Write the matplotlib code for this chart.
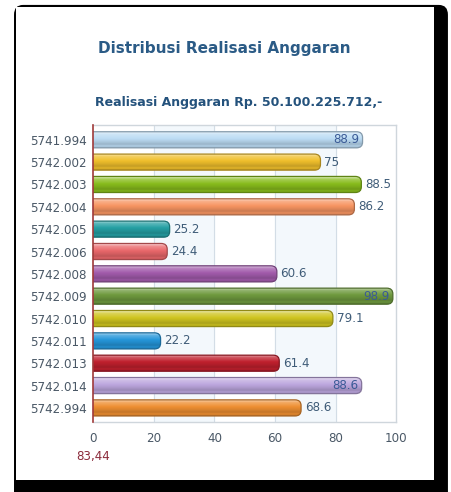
import matplotlib
matplotlib.use("Agg")
import matplotlib.pyplot as plt
from matplotlib.patches import FancyBboxPatch
import matplotlib.colors as mcolors
import numpy as np

categories = ["5741.994", "5742.002", "5742.003", "5742.004", "5742.005", "5742.006",
              "5742.008", "5742.009", "5742.010", "5742.011", "5742.013", "5742.014", "5742.994"]
values = [88.9, 75, 88.5, 86.2, 25.2, 24.4, 60.6, 98.9, 79.1, 22.2, 61.4, 88.6, 68.6]
label_inside = [True, False, False, False, False, False, False, True, False, False, False, True, False]
bar_colors = ["#bcdcf4", "#f0bf2c", "#88bc1c", "#f79562", "#25a0a4", "#e9676a",
              "#a25bac", "#6f9a3f", "#cfc520", "#2596da", "#c0202e", "#bca6de", "#ee8f32"]
xticks = [0, 20, 40, 60, 80, 100]
title = "Distribusi Realisasi Anggaran"
subtitle = "Realisasi Anggaran Rp. 50.100.225.712,-"
footer = "83,44"

fig = plt.figure(figsize=(4.52, 4.92), dpi=100)
fig.patch.set_facecolor("white")

# card frame with shadow
fig.patches.append(FancyBboxPatch((0.031, -0.02), 0.96, 1.01, boxstyle="round,pad=0,rounding_size=0.02",
                                  transform=fig.transFigure, facecolor="black", edgecolor="none", zorder=-3))
fig.patches.append(FancyBboxPatch((0.0354, 0.0244), 0.9246, 0.9614, boxstyle="square,pad=0",
                                  transform=fig.transFigure, facecolor="white", edgecolor="none", zorder=-2))

title_color = "#2b5b86"
fig.text(0.497, 0.902, title, ha="center", va="center", fontsize=11.0, fontweight="bold", color=title_color)
fig.text(0.527, 0.791, subtitle, ha="center", va="center", fontsize=9.0, fontweight="bold", color="#24527c")

ax = fig.add_axes([0.2065, 0.1423, 0.670, 0.604])
ax.set_facecolor("none")
ypos = np.arange(len(categories))

# alternating bands
for i in range(len(xticks) - 1):
    if i % 2 == 1:
        ax.axvspan(xticks[i], xticks[i + 1], color="#f3f8fc", zorder=0)
for t in xticks[1:-1]:
    ax.axvline(t, color="#d3dde6", lw=0.8, zorder=0.5)

h = 0.72
bars = ax.barh(ypos, values, height=h, color=bar_colors, zorder=2)

# glossy rounded bars built from the bar geometry
profile_t = np.array([0.0, 0.08, 0.18, 0.35, 0.45, 0.62, 0.78, 0.9, 1.0])
profile_m = np.array([0.65, 0.55, 0.25, 0.1, 0.0, -0.08, -0.18, -0.05, -0.25])
tt = np.linspace(0, 1, 40)
mix = np.interp(tt, profile_t, profile_m)
for b, c in zip(bars, bar_colors):
    b.set_visible(False)
    x0, y0 = b.get_x(), b.get_y()
    w, hh = b.get_width(), b.get_height()
    rgb = np.array(mcolors.to_rgb(c))
    ext = 3.0
    patch = FancyBboxPatch((x0 - ext, y0), w + ext, hh,
                           boxstyle="round,pad=0,rounding_size=2.0", mutation_aspect=0.13,
                           facecolor="none", edgecolor=rgb * 0.7, linewidth=0.9, zorder=3)
    ax.add_patch(patch)
    grad = np.zeros((len(tt), 1, 3))
    for k, m in enumerate(mix):
        if m >= 0:
            grad[k, 0] = rgb + (1 - rgb) * m
        else:
            grad[k, 0] = rgb * (1 + m)
    im = ax.imshow(grad, extent=(x0 - ext, x0 + w, y0 + hh, y0), aspect="auto",
                   interpolation="bilinear", zorder=2.5)
    im.set_clip_path(patch)

ax.set_ylim(12.63, -0.67)
ax.set_xlim(0, 100)

label_color = "#3f5c78"
for y, v, inside in zip(ypos, values, label_inside):
    txt = f"{v:g}"
    if inside:
        ax.text(v - 1.0, y, txt, ha="right", va="center", fontsize=8.6, color="#3a5a96", zorder=5)
    else:
        ax.text(v + 1.2, y, txt, ha="left", va="center", fontsize=8.6, color=label_color, zorder=5)

ax.set_yticks(ypos)
ax.set_yticklabels(categories, fontsize=8.6, color="#4a5866")
ax.set_xticks(xticks)
ax.set_xticklabels([str(t) for t in xticks], fontsize=8.6, color="#4a5866")
ax.tick_params(axis="both", length=0, pad=5)
ax.tick_params(axis="x", pad=7)

for s in ["top", "right", "bottom"]:
    ax.spines[s].set_color("#cfd6dc")
    ax.spines[s].set_linewidth(1.0)
ax.spines["left"].set_color("#a03a3a")
ax.spines["left"].set_linewidth(1.2)
ax.spines["left"].set_zorder(6)

ax.text(0, -0.115, footer, transform=ax.get_xaxis_transform(), ha="center", va="center",
        fontsize=8.6, color="#8b2a3a")

fig.savefig("out.png", dpi=100)
